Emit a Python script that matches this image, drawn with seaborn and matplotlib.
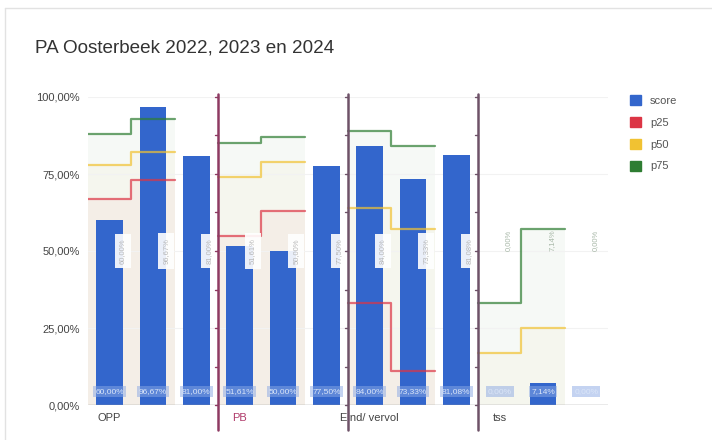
import numpy as np
import pandas as pd
import matplotlib.pyplot as plt
import seaborn as sns

# Gegevens
categorieen = ["OPP", "", "", "PB", "", "", "Eind/ vervol", "", "", "tss", "", ""]
score = [60.00, 96.67, 81.00, 51.61, 50.00, 77.50, 84.00, 73.33, 81.08, 0.00, 7.14, 0.00]
nan = np.nan
p25 = [67, 73, nan, 55, 63, nan, 33, 11, nan, nan, nan, nan]
p50 = [78, 82, nan, 74, 79, nan, 64, 57, nan, 17, 25, nan]
p75 = [88, 93, nan, 85, 87, nan, 89, 84, nan, 33, 57, nan]

kleuren = {"score": "#3366cc", "p25": "#dc3545", "p50": "#f1c232", "p75": "#2e7d32"}

def pct(v):
    return f"{v:.2f}".replace(".", ",") + "%"

sns.set_style("white")
plt.rcParams["font.family"] = ["Liberation Sans", "DejaVu Sans"]

df = pd.DataFrame({"pos": range(len(score)), "score": score})

fig = plt.figure(figsize=(7.12, 4.40), dpi=100)
ax = fig.add_axes([88 / 712, 35 / 440, 520 / 712, 308 / 440])

# kaartrand
fig.add_artist(plt.Line2D([5 / 712, 1], [1 - 8 / 440] * 2, color="#e2e2e2", lw=1))
fig.add_artist(plt.Line2D([5 / 712] * 2, [0, 1 - 8 / 440], color="#e2e2e2", lw=1))

# stapvlakken voor de percentielen
def stappen(waarden, kleur):
    i = 0
    n = len(waarden)
    while i < n:
        if np.isnan(waarden[i]):
            i += 1
            continue
        j = i
        while j < n and not np.isnan(waarden[j]):
            j += 1
        xs = np.arange(i, j + 1) - 0.5
        ys = list(waarden[i:j]) + [waarden[j - 1]]
        ax.fill_between(xs, 0, ys, step="post", color=kleur, alpha=0.04, lw=0, zorder=0)
        ax.step(xs, ys, where="post", color=kleur, lw=1.6, alpha=0.7, zorder=4)
        i = j

stappen(p75, kleuren["p75"])
stappen(p50, kleuren["p50"])
stappen(p25, kleuren["p25"])

sns.barplot(data=df, x="pos", y="score", color=kleuren["score"], width=0.62,
            saturation=1, linewidth=0, ax=ax, zorder=2)

# labels onderin de staven
for i, v in enumerate(score):
    ax.text(i, 4.5, pct(v), ha="center", va="center", fontsize=6, color="#dbe6f8",
            bbox=dict(boxstyle="square,pad=0.25", fc="#8aa8e4", ec="none", alpha=0.5),
            zorder=5)
    if i < 9:
        ax.text(i + 0.3, 50, pct(v), ha="center", va="center", rotation=90,
                fontsize=5.5, color="#b8b8b8",
                bbox=dict(boxstyle="square,pad=0.6", fc="white", ec="none", alpha=0.9),
                zorder=5)
    else:
        ax.text(i + 0.2, 57, pct(v), ha="center", va="top", rotation=90,
                fontsize=5.5, color="#a8b8a8", zorder=5)

# scheidingslijnen tussen de groepen
grenzen = [i - 0.5 for i, c in enumerate(categorieen) if c and i > 0]
lijnkleuren = ["#8e3a62", "#6e5268", "#6e5268"]
for g, k in zip(grenzen, lijnkleuren):
    ax.plot([g, g], [-8, 101], color=k, lw=1.8, clip_on=False, zorder=6)
    for t in np.arange(0, 101, 12.5):
        ax.plot([g - 0.06, g], [t, t], color=k, lw=1, clip_on=False, zorder=6)

ax.set_ylim(0, 100)
ax.set_xlim(-0.5, len(score) - 0.5)
ax.set_yticks([0, 25, 50, 75, 100])
ax.set_yticklabels([pct(t) for t in [0, 25, 50, 75, 100]], fontsize=8, color="#444444")
ax.set_xticks(range(len(score)))
ax.set_xticklabels(categorieen, fontsize=8, color="#444444")
ax.get_xticklabels()[3].set_color("#b03a6a")
ax.tick_params(axis="both", length=0)
ax.tick_params(axis="x", pad=6)
ax.tick_params(axis="y", pad=6)
ax.set_xlabel("")
ax.set_ylabel("")
ax.grid(axis="y", color="#f2f2f2", lw=0.8)
ax.set_axisbelow(True)
sns.despine(ax=ax, left=True, bottom=True)
ax.axhline(0, color="#999999", lw=1, zorder=3)

fig.text(35 / 712, 1 - 48 / 440, "PA Oosterbeek 2022, 2023 en 2024", fontsize=13.6,
         color="#333333", va="center")

handles = [plt.Rectangle((0, 0), 1, 1, color=kleuren[k]) for k in kleuren]
fig.legend(handles, list(kleuren), loc="upper left", bbox_to_anchor=(620 / 712, 1 - 85 / 440),
           frameon=False, fontsize=8, handlelength=1, handleheight=1, labelspacing=1.0,
           labelcolor="#555555")

fig.savefig("out.png", dpi=100)
